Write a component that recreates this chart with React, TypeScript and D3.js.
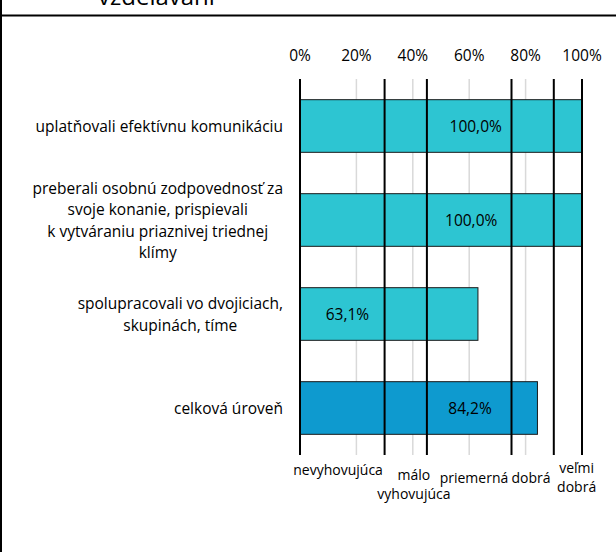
import React, { useEffect, useRef } from "react";
import * as d3 from "d3";

const categories = [
  "uplatňovali efektívnu komunikáciu",
  "preberali osobnú zodpovednosť za|svoje konanie, prispievali|k vytváraniu priaznivej triednej|klímy",
  "spolupracovali vo dvojiciach,|skupinách, tíme",
  "celková úroveň",
];
const values = [1.0, 1.0, 0.631, 0.842];
const valueLabels = ["100,0%", "100,0%", "63,1%", "84,2%"];
const labelAt = [0.623, 0.607, 0.168, 0.603];
const barColors = ["#2DC5D2", "#2DC5D2", "#2DC5D2", "#0E9ACF"];
const xTicks = [0, 0.2, 0.4, 0.6, 0.8, 1.0];
const gradeBounds = [0, 0.3, 0.45, 0.75, 0.9, 1.0];
const gradeLabels = ["nevyhovujúca", "málo|vyhovujúca", "priemerná", "dobrá", "veľmi|dobrá"];
const gradeLabelAt = [0.135, 0.404, 0.617, 0.819, 0.981];
const gradeLabelDy = [0, 5, 8, 8, -2];
const titleText = "vzdelávaní";

const FONT = "'Open Sans', sans-serif";

export default function App() {
  const ref = useRef<SVGSVGElement>(null);
  useEffect(() => {
    const svg = d3.select(ref.current!);
    svg.selectAll("*").remove();
    const W = 616, H = 552;
    const x = d3.scaleLinear().domain([0, 1]).range([300, 582]);
    const y = d3.scaleBand<number>().domain(d3.range(categories.length)).range([79, 455]).paddingInner(0.44).paddingOuter(0.22);

    svg.append("rect").attr("width", W).attr("height", H).attr("fill", "#fff");

    // title remnant & frame
    svg.append("text").attr("x", 98).attr("y", 5).attr("font-family", FONT).attr("font-size", 24).attr("fill", "#000").text(titleText);
    svg.append("line").attr("x1", 0).attr("x2", W).attr("y1", 15.5).attr("y2", 15.5).attr("stroke", "#000").attr("stroke-width", 2);
    svg.append("line").attr("x1", 1).attr("x2", 1).attr("y1", 0).attr("y2", H).attr("stroke", "#000").attr("stroke-width", 2);

    const [y0, y1] = y.range();

    // gray gridlines
    svg.append("g").selectAll("line").data(xTicks.filter(t => !gradeBounds.includes(t))).join("line")
      .attr("x1", d => x(d)).attr("x2", d => x(d)).attr("y1", y0).attr("y2", y1)
      .attr("stroke", "#d9d9d9").attr("stroke-width", 1.5);

    // tick labels
    svg.append("g").selectAll("text").data(xTicks).join("text")
      .attr("x", d => x(d)).attr("y", 60.5).attr("text-anchor", "middle")
      .attr("font-family", FONT).attr("font-size", 15.5).attr("fill", "#000")
      .text(d => `${Math.round(d * 100)}%`);

    // bars
    svg.append("g").selectAll("rect").data(values).join("rect")
      .attr("x", x(0)).attr("y", (_, i) => y(i)!)
      .attr("width", d => x(d) - x(0)).attr("height", y.bandwidth())
      .attr("fill", (_, i) => barColors[i]).attr("stroke", "#1a1a1a").attr("stroke-width", 1);

    // grade boundary lines
    svg.append("g").selectAll("line").data(gradeBounds).join("line")
      .attr("x1", d => x(d)).attr("x2", d => x(d)).attr("y1", y0).attr("y2", y1)
      .attr("stroke", "#000").attr("stroke-width", 2);

    // value labels
    svg.append("g").selectAll("text").data(valueLabels).join("text")
      .attr("x", (_, i) => x(labelAt[i])).attr("y", (_, i) => y(i)! + y.bandwidth() / 2 + 6)
      .attr("text-anchor", "middle").attr("font-family", FONT).attr("font-size", 15.5).attr("fill", "#000")
      .text(d => d);

    // category labels (block right aligned, lines centered)
    const rightEdge = 283;
    const lineH = 21.5;
    categories.forEach((c, i) => {
      const lines = c.split("|");
      const g = svg.append("g");
      const texts = lines.map((l, j) =>
        g.append("text").attr("font-family", FONT).attr("font-size", 15.5).attr("fill", "#000")
          .attr("text-anchor", "middle")
          .attr("y", y(i)! + y.bandwidth() / 2 + (j - (lines.length - 1) / 2) * lineH + 6)
          .text(l)
      );
      const maxW = d3.max(texts, t => (t.node() as SVGTextElement).getComputedTextLength()) || 0;
      texts.forEach(t => t.attr("x", rightEdge - maxW / 2));
    });

    // grade labels
    gradeLabels.forEach((gl, i) => {
      const lines = gl.split("|");
      lines.forEach((l, j) => {
        svg.append("text").attr("x", x(gradeLabelAt[i])).attr("y", 475 + gradeLabelDy[i] + j * 18.5)
          .attr("text-anchor", "middle").attr("font-family", FONT).attr("font-size", 14).attr("fill", "#000")
          .text(l);
      });
    });
  }, []);
  return (
    <svg ref={ref} width={616} height={552} style={{ position: "absolute", left: 0, top: 0 }} />
  );
}
